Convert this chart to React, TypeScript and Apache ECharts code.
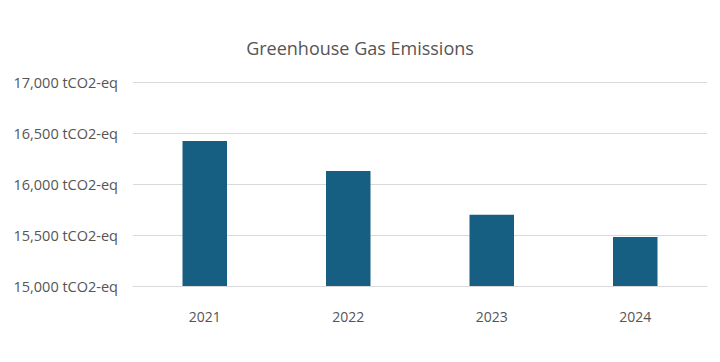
import React, { useEffect, useRef } from "react";
import * as echarts from "echarts";

const categories = ["2021", "2022", "2023", "2024"];
const emissions = [16422, 16127, 15699, 15480];
const yTicks = { min: 15000, max: 17000, interval: 500 };
const unit = "tCO2-eq";

export default function App() {
  const ref = useRef<HTMLDivElement>(null);
  useEffect(() => {
    if (!ref.current) return;
    const chart = echarts.init(ref.current, null, { renderer: "svg" });
    const font = "'Open Sans', 'Noto Sans', sans-serif";
    chart.setOption({
      animation: false,
      backgroundColor: "#ffffff",
      textStyle: { fontFamily: font },
      title: {
        text: "Greenhouse Gas Emissions",
        left: "center",
        top: 34,
        textStyle: { fontFamily: font, fontSize: 18, fontWeight: "normal", color: "#555555" },
      },
      grid: { left: 133, right: 13, top: 82, bottom: 76 },
      xAxis: {
        type: "category",
        data: categories,
        axisLine: { show: true, lineStyle: { color: "#d9d9d9" } },
        axisTick: { show: false },
        axisLabel: { margin: 23, fontSize: 14, color: "#555555", fontFamily: font },
      },
      yAxis: {
        type: "value",
        min: yTicks.min,
        max: yTicks.max,
        interval: yTicks.interval,
        axisLine: { show: false },
        axisTick: { show: false },
        splitLine: { lineStyle: { color: "#d9d9d9" } },
        axisLabel: {
          margin: 15,
          fontSize: 14.5,
          color: "#555555",
          fontFamily: font,
          formatter: (v: number) => v.toLocaleString("en-US") + " " + unit,
        },
      },
      series: [
        {
          type: "bar",
          data: emissions,
          barWidth: "31%",
          itemStyle: { color: "#165e82" },
        },
      ],
    });
    return () => chart.dispose();
  }, []);
  return (
    <div
      ref={ref}
      style={{ position: "fixed", left: 0, top: 0, width: 720, height: 362 }}
    />
  );
}
